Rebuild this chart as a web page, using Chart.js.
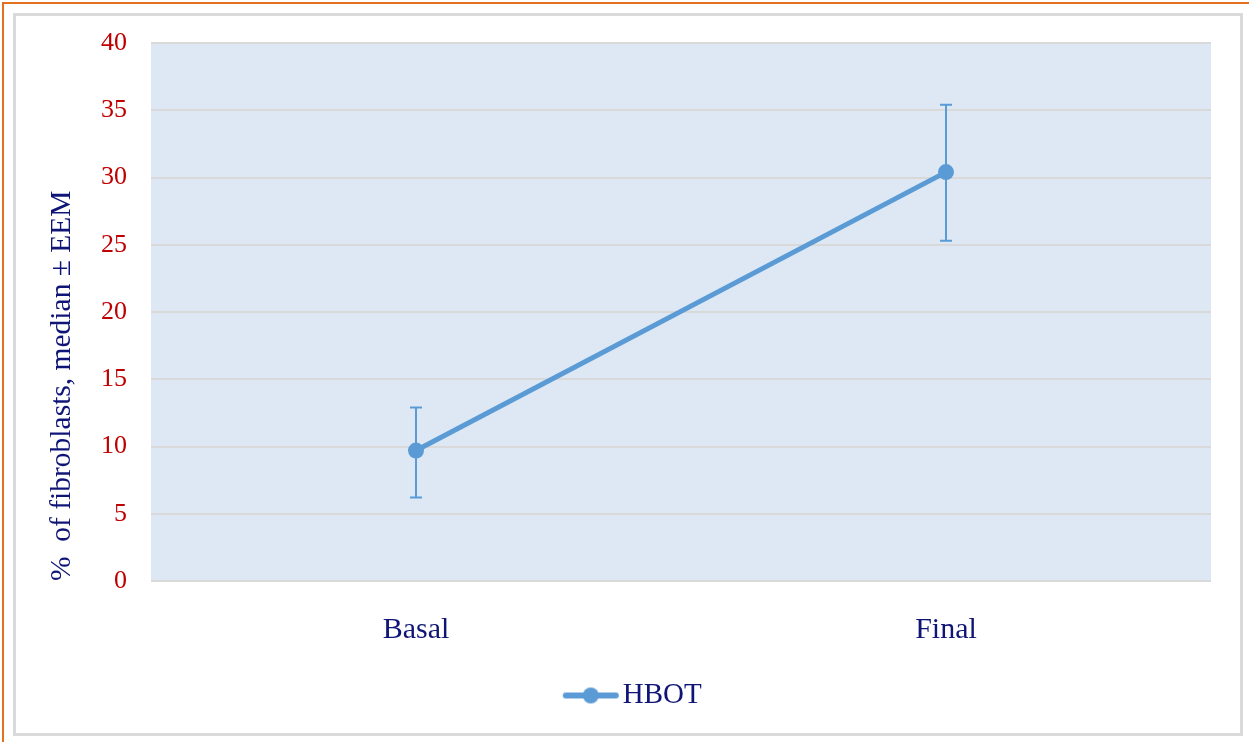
<!DOCTYPE html>
<html>
<head>
<meta charset="utf-8">
<script src="https://cdn.jsdelivr.net/npm/chart.js@4.4.1/dist/chart.umd.min.js"></script>
<style>
  html, body { margin: 0; padding: 0; background: #ffffff; }
  #wrap { position: relative; width: 1249px; height: 742px; overflow: hidden; }
  #orange { position: absolute; left: 2px; top: 2px; width: 1260px; height: 760px;
            border-top: 2px solid #E2701F; border-left: 2px solid #E2701F; box-sizing: border-box; }
  #frame { position: absolute; left: 13px; top: 13px; width: 1230px; height: 723px;
           border: 3px solid #DADADA; box-sizing: border-box; }
  canvas { position: absolute; left: 0; top: 0; }
</style>
</head>
<body>
<div id="wrap">
  <div id="orange"></div>
  <div id="frame"></div>
  <canvas id="c" width="1249" height="742"></canvas>
</div>
<script>
// ---- data ----
const categories = ['Basal', 'Final'];
const seriesName = 'HBOT';
const medians = [9.7, 30.4];
const errorPlus = [3.2, 5.0];
const errorMinus = [3.5, 5.1];
const yTickMin = 0;
const yTickMax = 40;
const yTickStep = 5;
const yAxisTitle = '%  of fibroblasts, median \u00B1 EEM';

// ---- styles ----
const LINE_COLOR = '#5B9BD5';
const NAVY = '#0F1577';
const RED = '#C00000';
const GRID = '#D9D9D9';
const PLOT_BG = '#DEE8F4';
const SERIF = '"Liberation Serif", "Times New Roman", serif';

const plotBg = {
  id: 'plotBg',
  beforeDraw(chart) {
    const {ctx, chartArea: a} = chart;
    ctx.save();
    ctx.fillStyle = PLOT_BG;
    ctx.fillRect(a.left, a.top, a.right - a.left, a.bottom - a.top);
    ctx.restore();
  }
};

const errorBars = {
  id: 'errorBars',
  beforeDatasetsDraw(chart) {
    const {ctx, scales: {x, y}} = chart;
    ctx.save();
    ctx.strokeStyle = LINE_COLOR;
    ctx.lineWidth = 2;
    medians.forEach((m, i) => {
      const px = x.getPixelForValue(i);
      const top = y.getPixelForValue(m + errorPlus[i]);
      const bot = y.getPixelForValue(m - errorMinus[i]);
      ctx.beginPath();
      ctx.moveTo(px, top); ctx.lineTo(px, bot);
      ctx.moveTo(px - 6, top); ctx.lineTo(px + 6, top);
      ctx.moveTo(px - 6, bot); ctx.lineTo(px + 6, bot);
      ctx.stroke();
    });
    ctx.restore();
  }
};

// legend marker: line with dot (drawn right-shifted inside a wider image)
const marker = document.createElement('canvas');
marker.width = 82; marker.height = 20;
(function () {
  const m = marker.getContext('2d');
  m.strokeStyle = LINE_COLOR; m.lineWidth = 6; m.lineCap = 'round';
  m.beginPath(); m.moveTo(28, 10); m.lineTo(78, 10); m.stroke();
  m.fillStyle = LINE_COLOR;
  m.beginPath(); m.arc(53, 10, 8, 0, Math.PI * 2); m.fill();
})();

new Chart(document.getElementById('c'), {
  type: 'line',
  data: {
    labels: categories,
    datasets: [{
      label: seriesName,
      data: medians,
      borderColor: LINE_COLOR,
      backgroundColor: LINE_COLOR,
      borderWidth: 5,
      pointRadius: 8,
      pointBorderWidth: 0,
      pointBackgroundColor: LINE_COLOR,
      tension: 0,
      fill: false
    }]
  },
  options: {
    responsive: false,
    animation: false,
    events: [],
    layout: { padding: { left: 40, right: 38, top: 43, bottom: 22 } },
    scales: {
      x: {
        offset: true,
        grid: { display: false, drawTicks: false },
        border: { display: false },
        ticks: { color: NAVY, font: { family: SERIF, size: 30 }, padding: 31 },
        afterFit(s) { s.height = 90; }
      },
      y: {
        min: yTickMin, max: yTickMax,
        ticks: { stepSize: yTickStep, color: RED, font: { family: SERIF, size: 26 }, padding: 24 },
        grid: { color: GRID, lineWidth: 2, drawTicks: false },
        border: { display: false },
        title: {
          display: true, text: yAxisTitle, align: 'start',
          color: NAVY, font: { family: SERIF, size: 29.5 }, padding: { top: 5, bottom: 0 }
        },
        afterFit(s) { s.width = 111; }
      }
    },
    plugins: {
      tooltip: { enabled: false },
      legend: {
        position: 'bottom',
        labels: {
          color: NAVY,
          font: { family: SERIF, size: 29 },
          usePointStyle: true,
          pointStyleWidth: 59,
          padding: 10,
          generateLabels(chart) {
            return chart.data.datasets.map((d, i) => ({
              text: d.label, pointStyle: marker, fontColor: NAVY,
              strokeStyle: LINE_COLOR, fillStyle: LINE_COLOR, lineWidth: 0,
              hidden: false, datasetIndex: i
            }));
          }
        }
      }
    }
  },
  plugins: [plotBg, errorBars]
});
</script>
</body>
</html>
